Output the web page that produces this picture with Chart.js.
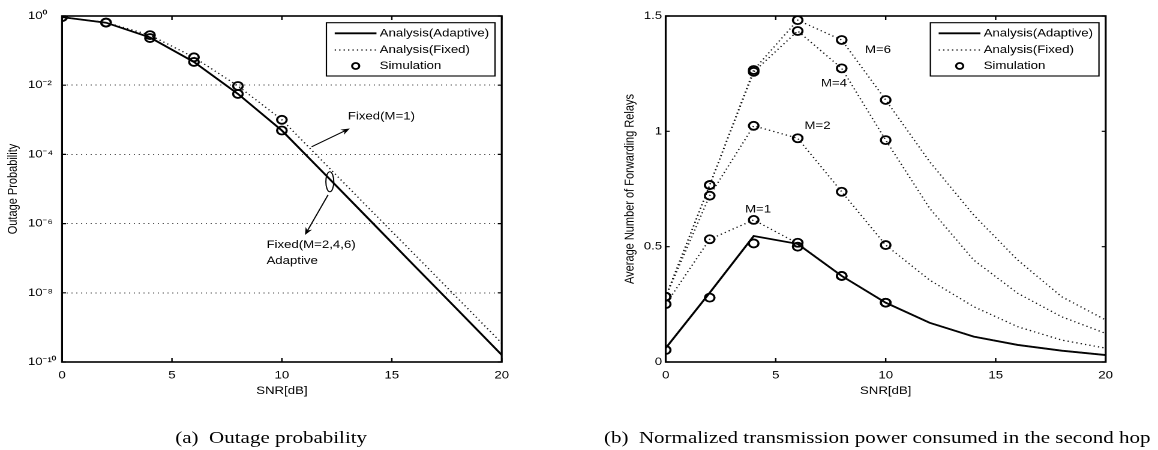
<!DOCTYPE html>
<html><head><meta charset="utf-8">
<script src="https://cdn.jsdelivr.net/npm/chart.js@4.4.1/dist/chart.umd.min.js"></script>
<style>
html,body{margin:0;padding:0;background:#fff;overflow:hidden;width:1158px;height:450px;}
#stage{position:absolute;left:0;top:0;width:965px;height:450px;transform:scaleX(1.2);transform-origin:0 0;}
.box{position:absolute;top:0;height:450px;}
#c1box{left:0;width:480px;}
#c2box{left:480px;width:485px;}
.cap{position:absolute;top:427px;font-family:"Liberation Serif","Times New Roman",serif;font-size:17.5px;white-space:pre;transform:translateX(-50%);line-height:20px;color:#000;}
</style></head>
<body>
<div id="stage">
  <div class="box" id="c1box"><canvas id="c1"></canvas></div>
  <div class="box" id="c2box"><canvas id="c2"></canvas></div>
  <div class="cap" style="left:226px">(a)  Outage probability</div>
  <div class="cap" style="left:731px">(b)  Normalized transmission power consumed in the second hop</div>
</div>
<script>
// ---------------- data ----------------
const snrAnalysis = [0, 2, 4, 6, 8, 10, 12, 14, 16, 18, 20];
const snrSim = [0, 2, 4, 6, 8, 10];

// (a) outage probability
const outageAdaptive = [0.93, 0.64, 0.24, 0.047, 0.0056, 4.9e-4, 2.5e-5, 1.26e-6, 6.3e-8, 3.2e-9, 1.6e-10];
const outageFixed    = [0.93, 0.65, 0.28, 0.064, 0.0095, 1.0e-3, 5.1e-5, 2.6e-6, 1.35e-7, 6.9e-9, 3.5e-10];
const outageSimAdaptive = [0.93, 0.64, 0.23, 0.047, 0.0056, 4.9e-4];
const outageSimFixed    = [0.93, 0.65, 0.28, 0.064, 0.0095, 1.0e-3];

// (b) average number of forwarding relays
const relaysAdaptive = [0.06, 0.30, 0.546, 0.512, 0.373, 0.257, 0.170, 0.110, 0.074, 0.049, 0.030];
const relaysM1 = [0.25, 0.532, 0.616, 0.514, 0.374, 0.258, 0.171, 0.111, 0.075, 0.050, 0.031];
const relaysM2 = [0.283, 0.721, 1.024, 0.970, 0.738, 0.507, 0.355, 0.240, 0.153, 0.095, 0.060];
const relaysM4 = [0.283, 0.767, 1.258, 1.435, 1.273, 0.962, 0.666, 0.442, 0.298, 0.196, 0.124];
const relaysM6 = [0.283, 0.767, 1.266, 1.482, 1.396, 1.136, 0.868, 0.637, 0.442, 0.283, 0.182];
const relaysSimAdaptive = [0.052, 0.279, 0.514, 0.500, 0.373, 0.257];
const relaysSimM1 = [0.251, 0.532, 0.616, 0.517, 0.373, 0.257];
const relaysSimM2 = [0.283, 0.721, 1.024, 0.970, 0.738, 0.507];
const relaysSimM4 = [0.283, 0.767, 1.258, 1.435, 1.273, 0.962];
const relaysSimM6 = [0.283, 0.767, 1.266, 1.482, 1.396, 1.136];

// ticks & labels
const xTicks = [0, 5, 10, 15, 20];
const outageTicks = [1e-10, 1e-8, 1e-6, 1e-4, 1e-2, 1];
const outageTickLabels = ['10⁻¹⁰', '10⁻⁸', '10⁻⁶', '10⁻⁴', '10⁻²', '10⁰'];
const relayTicks = [0, 0.5, 1, 1.5];
const relayTickLabels = ['0', '0.5', '1', '1.5'];
const legendLabels = ['Analysis(Adaptive)', 'Analysis(Fixed)', 'Simulation'];
const mLabels = ['M=1', 'M=2', 'M=4', 'M=6'];
const outageNotes = ['Fixed(M=1)', 'Fixed(M=2,4,6)', 'Adaptive'];
const xTitle = 'SNR[dB]';
const yTitleA = 'Outage Probability';
const yTitleB = 'Average Number of Forwarding Relays';

// ---------------- helpers ----------------
const FAMILY = '"Liberation Sans", Arial, Helvetica, sans-serif';
const FONT = '11px ' + FAMILY;
Chart.defaults.font.family = FAMILY;
Chart.defaults.font.size = 11;
Chart.defaults.color = '#000';

const DOT = [1.1, 2.6];
function pts(xs, ys) { return xs.map((x, i) => ({ x: x, y: ys[i] })); }
function solidSet(label, xs, ys) {
  return { label, data: pts(xs, ys), borderColor: '#000', borderWidth: 1.8, pointRadius: 0, tension: 0, fill: false };
}
function dottedSet(label, xs, ys) {
  return { label, data: pts(xs, ys), borderColor: '#111', borderWidth: 1.25, borderDash: DOT, pointRadius: 0, tension: 0, fill: false };
}
function simSet(label, xs, ys) {
  return { label, data: pts(xs, ys), showLine: false, pointRadius: 4, pointBorderWidth: 1.8,
           pointBorderColor: '#000', pointBackgroundColor: 'rgba(0,0,0,0)', pointStyle: 'circle' };
}

const framePlugin = {
  id: 'frame',
  afterDatasetsDraw(chart) {
    const { ctx, chartArea: a, scales } = chart;
    const x = scales.x, y = scales.y;
    ctx.save();
    ctx.strokeStyle = '#000';
    ctx.lineWidth = 1.2;
    ctx.beginPath();
    x.ticks.forEach(t => {
      const p = x.getPixelForValue(t.value);
      ctx.moveTo(p, a.bottom); ctx.lineTo(p, a.bottom - 4);
      ctx.moveTo(p, a.top); ctx.lineTo(p, a.top + 4);
    });
    y.ticks.forEach(t => {
      const p = y.getPixelForValue(t.value);
      ctx.moveTo(a.left, p); ctx.lineTo(a.left + 3.3, p);
      ctx.moveTo(a.right, p); ctx.lineTo(a.right - 3.3, p);
    });
    ctx.stroke();
    ctx.lineWidth = 1.6;
    ctx.strokeRect(a.left, a.top, a.right - a.left, a.bottom - a.top);
    ctx.restore();
  }
};

function makeLegend(labels) {
  return {
    id: 'boxLegend',
    afterDraw(chart) {
      const { ctx, chartArea: a } = chart;
      ctx.save();
      ctx.font = FONT;
      const tw = Math.max(...labels.map(l => ctx.measureText(l).width));
      const w = 44.4 + tw + 5, h = 53.3;
      const L = a.right - 5.6 - w, T = a.top + 6.7;
      ctx.fillStyle = '#fff'; ctx.fillRect(L, T, w, h);
      ctx.strokeStyle = '#000'; ctx.lineWidth = 1.1; ctx.strokeRect(L, T, w, h);
      const rows = [10.6, 27.3, 43.3];
      ctx.beginPath(); ctx.lineWidth = 1.8; ctx.strokeStyle = '#000';
      ctx.moveTo(L + 6.9, T + rows[0]); ctx.lineTo(L + 41.7, T + rows[0]); ctx.stroke();
      ctx.beginPath(); ctx.lineWidth = 1.25; ctx.strokeStyle = '#111'; ctx.setLineDash(DOT);
      ctx.moveTo(L + 6.9, T + rows[1]); ctx.lineTo(L + 41.7, T + rows[1]); ctx.stroke();
      ctx.setLineDash([]);
      ctx.beginPath(); ctx.strokeStyle = '#000'; ctx.lineWidth = 1.7;
      ctx.arc(L + 24.4, T + rows[2], 3, 0, 2 * Math.PI); ctx.stroke();
      ctx.fillStyle = '#000'; ctx.textBaseline = 'middle'; ctx.textAlign = 'left';
      labels.forEach((l, i) => ctx.fillText(l, L + 44.4, T + rows[i]));
      ctx.restore();
    }
  };
}

function arrow(ctx, x1, y1, x2, y2) {
  const ang = Math.atan2(y2 - y1, x2 - x1);
  const len = 8, spread = 0.38, notch = 5;
  ctx.beginPath(); ctx.moveTo(x1, y1);
  ctx.lineTo(x2 - notch * Math.cos(ang), y2 - notch * Math.sin(ang)); ctx.stroke();
  ctx.beginPath();
  ctx.moveTo(x2, y2);
  ctx.lineTo(x2 - len * Math.cos(ang - spread), y2 - len * Math.sin(ang - spread));
  ctx.lineTo(x2 - notch * Math.cos(ang), y2 - notch * Math.sin(ang));
  ctx.lineTo(x2 - len * Math.cos(ang + spread), y2 - len * Math.sin(ang + spread));
  ctx.closePath(); ctx.fill();
}

const outageNotesPlugin = {
  id: 'outageNotes',
  afterDatasetsDraw(chart) {
    const { ctx, scales: { x, y } } = chart;
    const px = v => x.getPixelForValue(v);
    const py = e => y.getPixelForValue(Math.pow(10, e));
    ctx.save();
    ctx.font = FONT; ctx.fillStyle = '#000'; ctx.strokeStyle = '#000'; ctx.lineWidth = 1;
    ctx.textAlign = 'left'; ctx.textBaseline = 'middle';
    ctx.fillText(outageNotes[0], px(13.0), py(-2.91));
    arrow(ctx, px(11.35), py(-3.78), px(13.09), py(-3.25));
    ctx.beginPath(); ctx.ellipse(px(12.18), py(-4.79), 3.3, 10, 0, 0, 2 * Math.PI); ctx.stroke();
    arrow(ctx, px(12.1), py(-5.17), px(11.05), py(-6.33));
    ctx.fillText(outageNotes[1], px(9.3), py(-6.62));
    ctx.fillText(outageNotes[2], px(9.3), py(-7.08));
    ctx.restore();
  }
};

const relayNotesPlugin = {
  id: 'relayNotes',
  afterDatasetsDraw(chart) {
    const { ctx, scales: { x, y } } = chart;
    const spots = [[4.2, 0.662], [6.9, 1.023], [7.65, 1.208], [9.65, 1.353]];
    ctx.save();
    ctx.font = FONT; ctx.fillStyle = '#000'; ctx.textAlign = 'center'; ctx.textBaseline = 'middle';
    mLabels.forEach((t, i) => ctx.fillText(t, x.getPixelForValue(spots[i][0]), y.getPixelForValue(spots[i][1])));
    ctx.restore();
  }
};

function xScale() {
  return {
    type: 'linear', min: 0, max: 20,
    afterBuildTicks: s => { s.ticks = xTicks.map(v => ({ value: v })); },
    ticks: { padding: 7, maxRotation: 0, color: '#000', callback: v => String(v) },
    grid: { display: false, drawTicks: false },
    border: { display: false },
    title: { display: true, text: xTitle, color: '#000', padding: { top: 0, bottom: 52.4 } },
    afterFit: s => { s.height = 88; }
  };
}

// ---------------- chart (a) ----------------
new Chart(document.getElementById('c1'), {
  type: 'line',
  data: {
    datasets: [
      dottedSet('Analysis(Fixed)', snrAnalysis, outageFixed),
      solidSet('Analysis(Adaptive)', snrAnalysis, outageAdaptive),
      simSet('Simulation', snrSim, outageSimFixed),
      simSet('Simulation', snrSim, outageSimAdaptive)
    ]
  },
  options: {
    animation: false, responsive: true, maintainAspectRatio: false, devicePixelRatio: 2, events: [],
    layout: { padding: { left: 23.3, right: 61.9, top: 16, bottom: 0 } },
    plugins: { legend: { display: false }, tooltip: { enabled: false } },
    scales: {
      x: xScale(),
      y: {
        type: 'logarithmic', min: 1e-10, max: 1,
        afterBuildTicks: s => { s.ticks = outageTicks.map(v => ({ value: v })); },
        ticks: { crossAlign: 'far', padding: 0, color: '#000', callback: (v, i) => outageTickLabels[i] },
        grid: { drawTicks: false, color: '#555', lineWidth: 1 },
        border: { display: false, dash: [1, 3] },
        title: { display: true, text: yTitleA, color: '#000', padding: { top: -18.8, bottom: 0 } },
        afterFit: s => { s.width = 28.4; }
      }
    }
  },
  plugins: [framePlugin, outageNotesPlugin, makeLegend(legendLabels)]
});

// ---------------- chart (b) ----------------
new Chart(document.getElementById('c2'), {
  type: 'line',
  data: {
    datasets: [
      dottedSet('Analysis(Fixed) M=6', snrAnalysis, relaysM6),
      dottedSet('Analysis(Fixed) M=4', snrAnalysis, relaysM4),
      dottedSet('Analysis(Fixed) M=2', snrAnalysis, relaysM2),
      dottedSet('Analysis(Fixed) M=1', snrAnalysis, relaysM1),
      solidSet('Analysis(Adaptive)', snrAnalysis, relaysAdaptive),
      simSet('Simulation', snrSim, relaysSimM6),
      simSet('Simulation', snrSim, relaysSimM4),
      simSet('Simulation', snrSim, relaysSimM2),
      simSet('Simulation', snrSim, relaysSimM1),
      simSet('Simulation', snrSim, relaysSimAdaptive)
    ]
  },
  options: {
    animation: false, responsive: true, maintainAspectRatio: false, devicePixelRatio: 2, events: [],
    layout: { padding: { left: 30, right: 43.6, top: 16, bottom: 0 } },
    plugins: { legend: { display: false }, tooltip: { enabled: false } },
    scales: {
      x: xScale(),
      y: {
        type: 'linear', min: 0, max: 1.5,
        afterBuildTicks: s => { s.ticks = relayTicks.map(v => ({ value: v })); },
        ticks: { padding: 3, color: '#000', callback: (v, i) => relayTickLabels[i] },
        grid: { display: false, drawTicks: false },
        border: { display: false },
        title: { display: true, text: yTitleB, color: '#000', padding: { top: 8.4, bottom: 0 } },
        afterFit: s => { s.width = 44.75; }
      }
    }
  },
  plugins: [framePlugin, relayNotesPlugin, makeLegend(legendLabels)]
});
</script>
</body></html>
